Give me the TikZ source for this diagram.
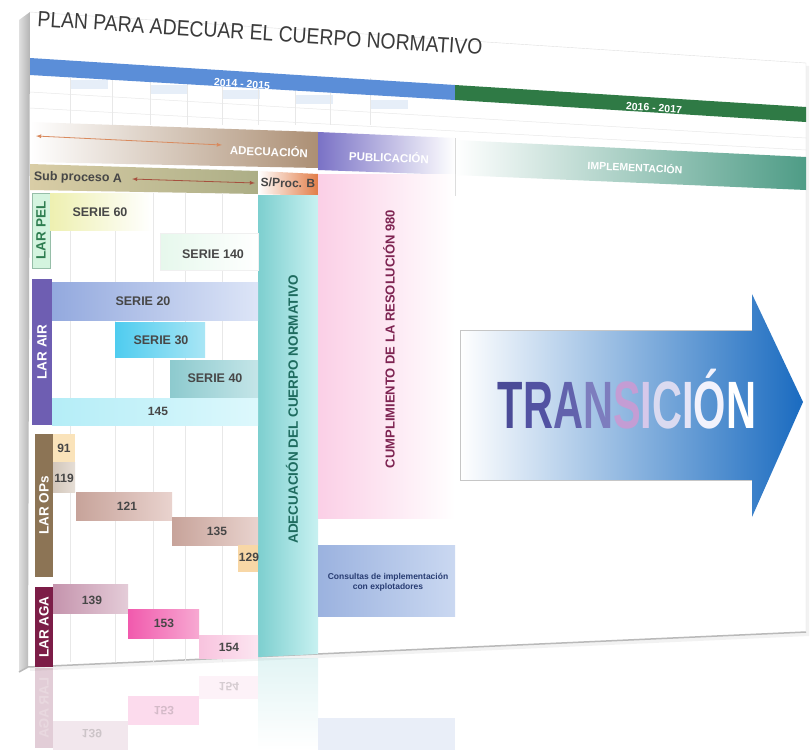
\documentclass[tikz,border=0pt]{standalone}
\usepackage{fontspec}
\setmainfont{Liberation Sans}
\newfontfamily\narrowfont[FakeStretch=0.62]{Liberation Sans}
\newfontfamily\titlefont[FakeStretch=0.88]{Liberation Sans}
\usetikzlibrary{positioning}

\definecolor{titgray}{HTML}{3A3A3A}
\definecolor{barblue}{HTML}{5B8ED8}
\definecolor{bargreen}{HTML}{2F7A45}
\definecolor{adebrown}{HTML}{AC8F74}
\definecolor{pubpurple}{HTML}{7A72C6}
\definecolor{impteal}{HTML}{4E9C86}
\definecolor{subtanA}{HTML}{D9CDA6}
\definecolor{subtanB}{HTML}{ACAE86}
\definecolor{sprocor}{HTML}{E27D48}
\definecolor{adearrow}{HTML}{D98A5E}
\definecolor{subarrow}{HTML}{A6503E}
\definecolor{sertxt}{HTML}{474747}
\definecolor{pelmint}{HTML}{D4F4DF}
\definecolor{pelgreen}{HTML}{2E7D50}
\definecolor{airpurple}{HTML}{6E5EB2}
\definecolor{opsbrown}{HTML}{8C7455}
\definecolor{agamaroon}{HTML}{7C1D47}
\definecolor{tealA}{HTML}{7DCFCF}
\definecolor{tealB}{HTML}{C8F1F1}
\definecolor{teltxt}{HTML}{1E6B5F}
\definecolor{pinkA}{HTML}{FBCFE6}
\definecolor{pinktxt}{HTML}{7E2452}
\definecolor{consA}{HTML}{9BB2DF}
\definecolor{consB}{HTML}{CAD8F1}
\definecolor{constxt}{HTML}{283C72}
\definecolor{s60}{HTML}{EEF0B0}
\definecolor{s140}{HTML}{E6F8EC}
\definecolor{s20a}{HTML}{93A9DE}
\definecolor{s20b}{HTML}{DDE5F7}
\definecolor{s30a}{HTML}{4FCCEF}
\definecolor{s30b}{HTML}{A9E6F5}
\definecolor{s40a}{HTML}{8DCACE}
\definecolor{s40b}{HTML}{C4E5E8}
\definecolor{c145a}{HTML}{B4EDF7}
\definecolor{c145b}{HTML}{DDF8FC}
\definecolor{c91}{HTML}{FAE3BA}
\definecolor{c119a}{HTML}{D2C6BA}
\definecolor{c119b}{HTML}{E6DED6}
\definecolor{c121a}{HTML}{C7A39A}
\definecolor{c121b}{HTML}{E9D3CE}
\definecolor{c129}{HTML}{F8D7A6}
\definecolor{c139a}{HTML}{C594AD}
\definecolor{c139b}{HTML}{E4CCD8}
\definecolor{c153a}{HTML}{F15AAD}
\definecolor{c153b}{HTML}{F7A9D2}
\definecolor{c154a}{HTML}{F8C3DE}
\definecolor{c154b}{HTML}{FCE6F1}
\definecolor{cellblue}{HTML}{E6EEF8}
\definecolor{transmid}{HTML}{86B9E6}
\definecolor{transblue}{HTML}{1A6BC0}
\definecolor{trA}{HTML}{4B4B97}
\definecolor{trB}{HTML}{5252A2}
\definecolor{trC}{HTML}{6262AC}
\definecolor{trD}{HTML}{7D7DBE}
\definecolor{trE}{HTML}{C49DD4}
\definecolor{trF}{HTML}{D6C8EA}
\definecolor{trG}{HTML}{DADAF0}
\definecolor{trH}{HTML}{E4E4F6}
\definecolor{trI}{HTML}{F2F2FC}

\begin{document}
\begin{tikzpicture}[x=1pt,y=-1pt,
  lbl/.style={font=\bfseries\fontsize{12.5}{14}\selectfont, text=sertxt, inner sep=0pt},
  num/.style={font=\bfseries\fontsize{12}{14}\selectfont, text=sertxt, inner sep=0pt},
  cat/.style={rotate=90, font=\bfseries\fontsize{13.5}{15}\selectfont, text=white, inner sep=0pt},
  head/.style={font=\bfseries\fontsize{11.5}{13}\selectfont, text=white, inner sep=0pt},
  vlbl/.style={rotate=90, font=\bfseries\fontsize{13.5}{15}\selectfont, inner sep=0pt},
  gridln/.style={draw=gray!18, line width=0.5pt},
  refl/.style={opacity=0.22}]
\useasboundingbox (0,0) rectangle (812,750);

	% slide
	\fill[gray!10] (33,15) -- (809,66) -- (809,636) -- (30,671) -- cycle;
	\fill[white] (30,12) -- (806,63) -- (806,632) -- (28,667) -- cycle;
	\shade[left color=gray!25, right color=gray!60] (19,20) -- (30,12) -- (28,667) -- (19,672) -- cycle;
	\draw[gray!55, line width=1.5pt] (19,672) -- (28,667) -- (806,632);
	\draw[gray!25] (30,12) -- (806,63) -- (806,632);

	\node[font=\titlefont\fontsize{22}{24}\selectfont, text=titgray, rotate=-3.7] (title) at (260,33) {PLAN PARA ADECUAR EL CUERPO NORMATIVO};

	% years
	\foreach \xx/\yy in {70/80,150/85,222/90,295/95,370/100}
		\fill[cellblue] (\xx,\yy) rectangle ++(38,9);
	\draw[gridln] (30,92) -- (806,138);
	\draw[gridln] (30,108) -- (806,150);
	\foreach \xx in {70,112,150,187,222,258,295,330,370}
		\draw[gridln] (\xx,78) -- (\xx,125);
	\fill[barblue] (30,58) -- (455,85) -- (455,100) -- (30,75) -- cycle;
	\fill[bargreen] (455,85) -- (806,107) -- (806,122) -- (455,100) -- cycle;
	\node[head, font=\bfseries\fontsize{10.5}{12}\selectfont, rotate=-3.7] (ya) at (242,84) {2014 - 2015};
	\node[head, font=\bfseries\fontsize{10.5}{12}\selectfont, rotate=-3.7] (yb) at (654,108) {2016 - 2017};

	% phases
	\shade[left color=white, middle color=adebrown!40, right color=adebrown] (30,122) -- (318,132) -- (318,168) -- (30,162) -- cycle;
	\shade[left color=pubpurple, right color=white] (318,132) -- (455,138) -- (455,175) -- (318,170) -- cycle;
	\shade[left color=white, middle color=impteal!35, right color=impteal] (455,140) -- (806,157) -- (806,190) -- (455,175) -- cycle;
	\draw[gray!30] (455,138) -- (455,196);
	\coordinate (adeL) at (36,136);
	\coordinate (adeR) at (222,145);
	\draw[latex-latex, adearrow, line width=0.8pt] (adeL) -- (adeR);
	\node[head, rotate=-2] (ade) at (269,151) {ADECUACIÓN};
	\node[head, rotate=-2.3] (pub) at (389,157) {PUBLICACIÓN};
	\node[head, font=\bfseries\fontsize{10.5}{12}\selectfont, rotate=-2.6] (imp) at (635,167) {IMPLEMENTACIÓN};

	% sub processes
	\shade[left color=subtanA, right color=subtanB] (30,164) -- (258,171) -- (258,194) -- (30,190) -- cycle;
	\shade[left color=white, right color=sprocor] (258,171) -- (318,174) -- (318,196) -- (258,194) -- cycle;
	\node[lbl, rotate=-1.5] (subA) at (78,178) {Sub proceso A};
	\coordinate (subL) at (132,179);
	\coordinate (subR) at (255,183);
	\draw[latex-latex, subarrow, line width=0.8pt] (subL) -- (subR);
	\node[lbl, font=\bfseries\fontsize{12}{14}\selectfont, rotate=-1.5] (subB) at (288,183) {S/Proc. B};

	% columns
	\shade[left color=tealA, right color=tealB] (258,195) -- (318,195) -- (318,654) -- (258,657) -- cycle;
	\shade[left color=pinkA, right color=white] (318,174) rectangle (455,518);
	\shade[left color=consA, right color=consB] (318,545) rectangle (455,616);
	\node[vlbl, text=teltxt] (adecol) at (292,409) {ADECUACIÓN DEL CUERPO NORMATIVO};
	\node[vlbl, text=pinktxt, font=\bfseries\fontsize{13}{15}\selectfont] (cumpl) at (389,339) {CUMPLIMIENTO DE LA RESOLUCIÓN 980};
	\node[font=\bfseries\fontsize{8.5}{10}\selectfont, text=constxt, align=center] (cons) at (388,582) {Consultas de implementación\\con explotadores};

	\foreach \xx in {70,115,153,185,222}
		\draw[gridln] (\xx,193) -- (\xx,662);

	% LAR groups
	\node[cat, fill=pelmint, draw=pelgreen!50, text=pelgreen, minimum width=75pt, minimum height=18pt] (lpel) at (41,230.5) {LAR PEL};
	\node[cat, fill=airpurple, minimum width=146pt, minimum height=20pt] (lair) at (42,352) {LAR AIR};
	\node[cat, fill=opsbrown, minimum width=143pt, minimum height=18pt] (lops) at (44,505.5) {LAR OPs};
	\node[cat, fill=agamaroon, minimum width=80pt, minimum height=18pt] (laga) at (44,627) {LAR AGA};

	% series
	\shade[left color=s60, right color=white] (50,193) rectangle (152,230);
	\node[lbl] (s60) at (100,212) {SERIE 60};
	\shade[left color=s140, right color=white, draw=gray!12] (160,233) rectangle (258,270);
	\node[lbl] (s140) at (213,254) {SERIE 140};
	\shade[left color=s20a, right color=s20b] (52,282) rectangle (258,320);
	\node[lbl] (s20) at (143,301) {SERIE 20};
	\shade[left color=s30a, right color=s30b] (115,322) rectangle (205,357);
	\node[lbl] (s30) at (161,340) {SERIE 30};
	\shade[left color=s40a, right color=s40b] (170,360) rectangle (258,397);
	\node[lbl] (s40) at (215,378) {SERIE 40};
	\shade[left color=c145a, right color=c145b] (52,398) rectangle (258,425);
	\node[num] (n145) at (158,411) {145};

	\fill[c91] (53,434) rectangle (75,462);
	\node[num] (n91) at (64,448) {91};
	\shade[left color=c119a, right color=c119b] (53,462) rectangle (75,492);
	\node[num] (n119) at (64,478) {119};
	\shade[left color=c121a, right color=c121b] (76,492) rectangle (172,520);
	\node[num] (n121) at (127,506) {121};
	\shade[left color=c121a, right color=c121b] (172,517) rectangle (258,545);
	\node[num] (n135) at (217,531) {135};
	\fill[c129] (238,545) rectangle (258,572);
	\node[num] (n129) at (249,557) {129};

	\shade[left color=c139a, right color=c139b] (53,584) rectangle (128,613);
	\node[num] (n139) at (92,600) {139};
	\shade[left color=c153a, right color=c153b] (128,609) rectangle (199,638);
	\node[num] (n153) at (164,623) {153};
	\shade[left color=c154a, right color=c154b] (199,635) rectangle (258,658);
	\node[num] (n154) at (229,647) {154};

	% transition
	\shade[left color=white, middle color=transmid, right color=transblue] (460,330) -- (752,330) -- (752,294) -- (803,402) -- (752,517) -- (752,480) -- (460,480) -- cycle;
	\draw[gray!45, line width=0.5pt] (752,330) -- (460,330) -- (460,480) -- (752,480);
	\node[font=\narrowfont\bfseries\fontsize{67}{70}\selectfont, inner sep=0pt, anchor=base] (trans) at (627,428) {\textcolor{trA}{T}\textcolor{trB}{R}\textcolor{trC}{A}\textcolor{trD}{N}\textcolor{trE}{S}\textcolor{trF}{I}\textcolor{trG}{C}\textcolor{trH}{I}\textcolor{trI}{Ó}\textcolor{white}{N}};

	% reflection
	\begin{scope}[refl]
		\shade[top color=tealA, bottom color=white] (258,658) rectangle (318,750);
		\node[cat, xscale=-1, fill=agamaroon, minimum width=80pt, minimum height=18pt] (raga) at (44,708) {LAR AGA};
		\fill[c154a] (199,676) rectangle (258,699);
		\node[num, yscale=-1] (r154) at (229,687) {154};
		\fill[c153a] (128,696) rectangle (199,725);
		\node[num, yscale=-1] (r153) at (164,711) {153};
		\fill[c139a] (53,721) rectangle (128,750);
		\node[num, yscale=-1] (r139) at (92,734) {139};
		\fill[consA] (318,718) rectangle (455,750);
	\end{scope}
\end{tikzpicture}
\end{document}
